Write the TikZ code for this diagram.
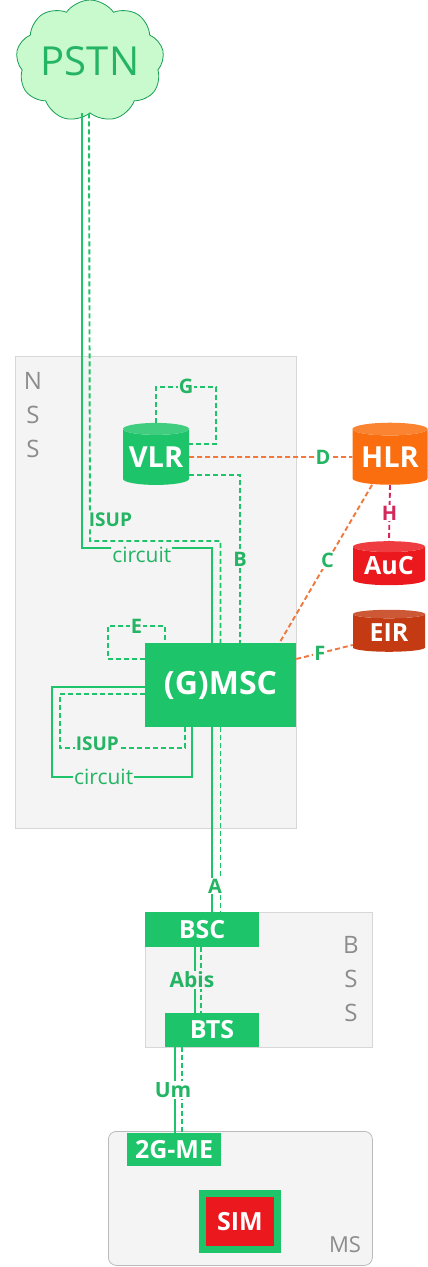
\documentclass[tikz,border=0pt]{standalone}
\usepackage{fontspec}
\setmainfont{Open Sans}
\usepackage{tikz}
\usepackage{xcolor}
\usetikzlibrary{shapes.geometric, shapes.symbols, positioning}

\definecolor{gsm}{RGB}{30,196,106}
\definecolor{gsmtxt}{RGB}{36,180,100}
\definecolor{cloudfill}{RGB}{200,250,205}
\definecolor{hlrcol}{RGB}{250,110,15}
\definecolor{auccol}{RGB}{235,25,30}
\definecolor{eircol}{RGB}{196,58,18}
\definecolor{hcol}{RGB}{210,40,90}
\definecolor{dorange}{RGB}{240,120,60}
\definecolor{areafill}{RGB}{244,244,244}
\definecolor{arealine}{RGB}{215,215,215}
\definecolor{areatxt}{RGB}{140,140,140}

\begin{document}
\begin{tikzpicture}[x=1pt, y=-1pt, node distance=2cm,
    area/.style={draw=arealine, fill=areafill, line width=.8pt, inner sep=0pt, anchor=north west},
    areaname/.style={text=areatxt, align=center, font=\fontsize{24}{34}\selectfont},
    box/.style={fill=gsm, text=white, inner sep=0pt, font=\bfseries\fontsize{25}{25}\selectfont},
    db/.style={cylinder, shape border rotate=90, aspect=.22, inner sep=0pt, text=white,
        cylinder uses custom fill, cylinder body fill=#1, cylinder end fill=#1!85!white,
        font=\bfseries\fontsize{29}{29}\selectfont},
    db/.default=gsm,
    link/.style={gsm, line width=1.9pt},
    sig/.style={link, dash pattern=on 5pt off 3pt},
    osig/.style={sig, dorange},
    lbl/.style={text=gsmtxt, fill=white, inner sep=1pt, font=\bfseries\fontsize{20}{20}\selectfont},
    wire/.style={text=gsmtxt, fill=areafill, inner sep=1pt, font=\fontsize{21}{21}\selectfont}
    ]
    \useasboundingbox (0,0) rectangle (428,1267);

    % domains
    \node[area, minimum width=281pt, minimum height=472pt] (nss) at (15,356) {};
    \node[areaname] (nssname) at (33,415) {N\\S\\S};
    \node[area, minimum width=227pt, minimum height=135pt] (bss) at (145,912) {};
    \node[areaname] (bssname) at (351,979) {B\\S\\S};
    \node[area, rounded corners=8pt, draw=areatxt!60, minimum width=264pt, minimum height=134pt] (ms) at (108,1131) {};
    \node[areaname, font=\fontsize{22}{22}\selectfont] (msname) at (345,1245) {MS};

    % network elements
    \node[cloud, cloud puffs=9, cloud puff arc=110, cloud ignores aspect, inner sep=0pt,
        draw=gsm!80!black, fill=cloudfill, text=gsmtxt, line width=.8pt,
        minimum width=148pt, minimum height=122pt, font=\fontsize{40}{40}\selectfont] (pstn) at (90,61) {PSTN};
    \node[db, minimum width=66pt, minimum height=62pt] (vlr) at (156,457) {VLR};
    \node[db=hlrcol, minimum width=75pt, minimum height=62pt] (hlr) at (390,457) {HLR};
    \node[db=auccol, minimum width=72pt, minimum height=44pt, font=\bfseries\fontsize{25}{25}\selectfont] (auc) at (389,566) {AuC};
    \node[db=eircol, minimum width=72pt, minimum height=42pt, font=\bfseries\fontsize{25}{25}\selectfont] (eir) at (389,633) {EIR};
    \node[box, minimum width=151pt, minimum height=84pt, font=\bfseries\fontsize{32}{32}\selectfont] (msc) at (220.5,685) {(G)MSC};
    \node[box, minimum width=114pt, minimum height=35pt] (bsc) at (202,929.5) {BSC};
    \node[box, minimum width=94pt, minimum height=34pt] (bts) at (212,1030) {BTS};
    \node[box, minimum width=94pt, minimum height=33pt] (me) at (174,1149.5) {2G-ME};
    \node[box, fill=auccol, draw=gsm, line width=7pt, minimum width=75pt, minimum height=56pt] (sim) at (240,1221.5) {SIM};

    % PSTN trunk
    \draw[sig] ([xshift=-1pt]pstn.south) -- (pstn.south |- 0,541) node[wire, font=\bfseries\fontsize{19}{19}\selectfont, anchor=south west, xshift=-3pt, yshift=12pt] {ISUP} -| (msc.north);
    \draw[link] ([xshift=-8pt]pstn.south) -- ([xshift=-8pt]pstn.south |- 0,548) -| node[wire, pos=.23, yshift=-7pt, inner ysep=4pt] {circuit} ([xshift=-8.5pt]msc.north);

    % core signalling
    \draw[sig] (vlr.north) |- node[lbl, fill=areafill, pos=.75] {G} ++(60,-36) |- ([yshift=13pt]vlr.east);
    \draw[sig] ([yshift=-18pt]vlr.east) -| node[lbl, fill=areafill, pos=.75] {B} ([xshift=19.5pt]msc.north);
    \draw[osig] (vlr.east) -- node[lbl, pos=.82] {D} (hlr.west);
    \draw[osig] ([xshift=-18pt]hlr.south) -- node[lbl, pos=.48] {C} ([xshift=59pt]msc.north);
    \draw[sig, hcol] (hlr.south) -- node[lbl, text=hcol] {H} (auc.north);
    \draw[osig] ([yshift=26pt]msc.east) -- node[lbl, pos=.42] {F} ([yshift=-12pt]eir.west);
    \draw[sig] ([yshift=26pt]msc.west) -| ++(-37,-33) -| node[lbl, fill=areafill, pos=.25] {E} ([xshift=-55.5pt]msc.north);

    % MSC to MSC
    \draw[sig] ([yshift=-9pt]msc.west) -| ++(-85,54) -| node[wire, font=\bfseries\fontsize{19}{19}\selectfont, pos=.15, yshift=4pt] {ISUP} ([xshift=-35.5pt]msc.south);
    \draw[link] ([yshift=-2pt]msc.west) -| ++(-93,90) -| node[wire, pos=.185] {circuit} ([xshift=-28.5pt]msc.south);

    % access
    \draw[sig] (msc.south) -- (msc.south |- bsc.north);
    \draw[link] ([xshift=-8.5pt]msc.south) -- node[lbl, pos=.86, xshift=3pt] {A} ([xshift=-8.5pt]msc.south |- bsc.north);
    \draw[sig] ([xshift=-1pt]bsc.south) -- ([xshift=-1pt]bsc.south |- bts.north);
    \draw[link] ([xshift=-7pt]bsc.south) -- node[lbl, fill=areafill, xshift=-3pt, font=\bfseries\fontsize{21}{21}\selectfont] {Abis} ([xshift=-7pt]bsc.south |- bts.north);
    \draw[sig] ([xshift=-30pt]bts.south) -- ([xshift=-30pt]bts.south |- me.north);
    \draw[link] ([xshift=-37pt]bts.south) -- node[lbl, pos=.5, xshift=-2pt, font=\bfseries\fontsize{21}{21}\selectfont] {Um} ([xshift=-37pt]bts.south |- me.north);
\end{tikzpicture}
\end{document}
